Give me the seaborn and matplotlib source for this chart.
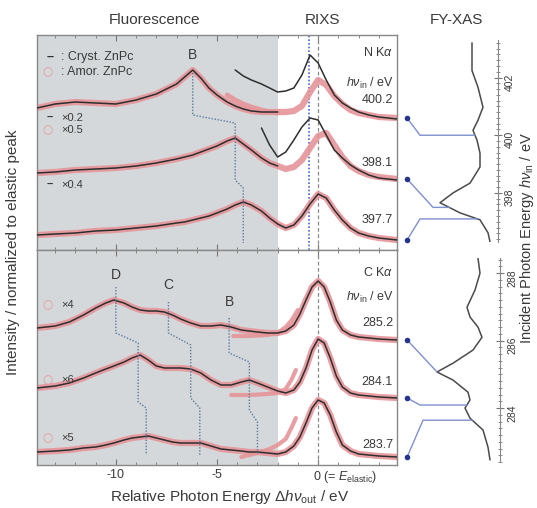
import numpy as np
import seaborn as sns
import matplotlib.pyplot as plt
from matplotlib.lines import Line2D
from matplotlib.ticker import MultipleLocator
from matplotlib.transforms import ScaledTranslation

# ---------- values ----------
# N K-alpha panel: relative photon energy grid (eV)
N_E = [-13.9, -13, -12, -11, -10, -9, -8, -7, -6.6, -6.2, -5.8, -5.4, -5, -4.5, -4.1, -3.7,
       -3.3, -2.8, -2.4, -2.0, -1.6, -1.2, -0.8, -0.4, 0, 0.4, 0.8, 1.2, 1.6, 2, 2.5, 3, 3.9]
N_LABELS = ["400.2", "398.1", "397.7"]
n1_red = [14.2, 14.6, 14.8, 14.7, 14.6, 15.0, 15.6, 16.6, 17.3, 18.0, 17.2, 16.2, 15.5, 14.8, 14.4, 14.1,
          13.9, 13.8, 13.8, 13.8, 13.8, 13.9, 14.4, 15.8, 17.0, 16.5, 15.4, 14.6, 14.0, 13.7, 13.5, 13.3, 13.2]
n1_red_scaled = [15.5, 15.0, 14.6, 14.3, 14.0, 13.8, 13.7]          # N_E[13:20]
n1_blk_scaled = [18.0, 17.4, 17.0, 16.6, 16.2, 15.8, 15.9, 16.2, 17.5, 19.5,
                 18.7, 17.0, 15.5, 14.7, 14.2, 13.8, 13.5, 13.3, 13.1]  # N_E[14:]
n2_red = [7.7, 7.8, 8.0, 8.1, 8.2, 8.4, 8.7, 9.1, 9.3, 9.5, 9.8, 10.1, 10.4, 10.9, 11.2, 10.6,
          10.0, 9.2, 8.7, 8.4, 8.1, 8.3, 9.0, 10.2, 11.4, 11.7, 10.5, 9.3, 8.4, 7.9, 7.5, 7.3, 7.1]
n2_blk_scaled = [12.2, 10.5, 9.3, 9.8, 11.0, 12.3, 13.2, 13.0, 11.5, 10.0,
                 9.2, 8.5, 8.0, 7.5, 7.2, 7.0]                      # N_E[17:]
n3_y = [1.5, 1.6, 1.7, 1.9, 2.0, 2.2, 2.4, 2.7, 2.8, 3.0, 3.2, 3.4, 3.7, 4.1, 4.5, 4.8,
        4.5, 3.9, 3.2, 2.6, 2.2, 2.5, 3.4, 4.6, 5.6, 5.2, 4.0, 3.0, 2.2, 1.7, 1.4, 1.2, 1.0]

# C K-alpha panel
C_E = [-13.9, -13, -12.3, -11.6, -11, -10.5, -10.1, -9.6, -9.2, -8.8, -8.4, -8.0, -7.6, -7.2,
       -6.8, -6.3, -5.8, -5.3, -4.8, -4.3, -3.8, -3.4, -3.0, -2.5, -2.0, -1.6, -1.2, -0.9,
       -0.6, -0.3, 0, 0.3, 0.6, 0.9, 1.2, 1.6, 2.0, 2.5, 3.0, 3.9]
C_LABELS = ["285.2", "284.1", "283.7"]
c1_y = [13.7, 13.9, 14.3, 15.0, 15.7, 16.2, 16.5, 16.2, 15.8, 15.5, 15.4, 15.4, 15.3, 15.0,
        14.6, 14.2, 13.9, 13.9, 14.0, 13.8, 13.5, 13.4, 13.3, 13.2, 13.2, 13.4, 14.0, 15.1,
        16.5, 17.8, 18.4, 17.8, 16.3, 14.5, 13.5, 13.0, 12.8, 12.7, 12.6, 12.5]
c2_y = [7.7, 7.9, 8.2, 8.7, 9.2, 9.6, 9.9, 10.3, 10.7, 11.0, 10.5, 9.9, 9.7, 9.7,
        9.7, 9.6, 9.2, 8.5, 8.0, 8.0, 8.3, 8.5, 8.2, 7.8, 7.4, 7.2, 7.5, 8.3,
        9.7, 11.5, 12.6, 12.2, 10.7, 8.9, 7.8, 7.2, 7.0, 6.9, 6.8, 6.7]
c3_y = [1.3, 1.4, 1.5, 1.7, 1.8, 2.0, 2.2, 2.5, 2.7, 2.8, 2.9, 2.7, 2.5, 2.3,
        2.2, 2.2, 2.2, 1.9, 1.6, 1.5, 1.4, 1.3, 1.3, 1.2, 1.1, 1.3, 1.9, 2.8,
        4.2, 5.7, 6.5, 6.2, 5.0, 3.3, 2.0, 1.4, 1.1, 1.0, 0.9, 0.8]
c1_sc_E = [-4.2, -3.4, -2.5, -2.0, -1.6, -1.3, -1.0]
c1_sc_y = [12.9, 12.9, 13.0, 13.2, 13.8, 14.5, 15.5]
c2_sc_E = [-4.3, -3.4, -2.5, -2.0, -1.6, -1.3, -1.1]
c2_sc_y = [7.0, 7.0, 7.1, 7.2, 7.6, 8.6, 9.5]
c3_sc_E = [-3.8, -3.0, -2.4, -2.0, -1.6, -1.3, -1.1]
c3_sc_y = [0.8, 1.2, 1.6, 2.0, 2.6, 3.8, 4.7]

# feature tracks (peak positions per spectrum, top/bottom of each dotted segment)
B_N_x, B_N_top, B_N_bot = [-6.2, -4.1, -3.7], [17.7, 12.7, 6.2], [13.5, 7.0, 0.7]
D_C_x, D_C_top, D_C_bot = [-10.0, -8.9, -8.5], [17.8, 12.2, 5.7], [13.2, 6.3, 1.0]
C_C_x, C_C_top, C_C_bot = [-7.4, -6.3, -5.85], [16.3, 12.0, 5.7], [13.2, 6.7, 1.0]
B_C_x, B_C_top, B_C_bot = [-4.4, -3.4, -3.0], [14.7, 10.3, 4.3], [11.2, 5.5, 1.0]

# FY-XAS spectra (incident energy, intensity)
xasN_E = [403.2, 402.24, 401.66, 400.97, 400.52, 400.17, 399.83, 399.38, 398.9, 398.34,
          398.0, 397.66, 397.31, 397.07, 396.62, 396.31]
xasN_I = [2.6, 2.6, 2.0, 1.5, 2.0, 2.5, 2.1, 1.8, 1.8, 2.8, 4.5, 5.8, 3.8, 1.8, 1.0, 0.8]
xasC_E = [288.44, 288.0, 287.5, 286.99, 286.7, 286.4, 286.1, 285.72, 285.33, 285.07,
          284.83, 284.47, 284.24, 284.0, 283.7, 283.35, 282.84, 282.46]
xasC_I = [2.2, 2.0, 2.5, 3.3, 3.0, 2.2, 1.8, 2.7, 4.7, 6.3, 4.7, 3.2, 3.0, 3.5, 3.0, 1.7, 1.2, 1.0]
connN_E, connN_elbow = [400.0, 397.5, 397.1], [7.8, 6.5, 7.8]
connC_E, connC_elbow = [285.07, 284.09, 283.64], [6.3, 8.0, 7.7]

# ---------- style ----------
sns.set_style("ticks")
plt.rcParams["font.family"] = ["Liberation Sans", "DejaVu Sans"]
plt.rcParams["mathtext.fontset"] = "custom"
plt.rcParams["mathtext.rm"] = "Liberation Sans"
plt.rcParams["mathtext.it"] = "Liberation Sans:italic"
TXT = "#3a3a3a"
GRAY = "#d5d8da"
PINK = "#e6959a"
BLK = "#2e2e2e"
TRACK = "#5b7aa3"
CONN = "#7f8fd0"
DOT = "#26358c"

W, H = 537, 508
fig = plt.figure(figsize=(W / 100, H / 100), dpi=100)


def box(x0, y0, x1, y1):
    return [x0 / W, 1 - y1 / H, (x1 - x0) / W, (y1 - y0) / H]


ax_n = fig.add_axes(box(37, 35, 397, 250))
ax_c = fig.add_axes(box(37, 250, 397, 465))
xas_n = fig.add_axes(box(405, 40, 498, 242))
xas_c = fig.add_axes(box(405, 258, 500, 462))


def line(ax, x, y, color, lw, alpha=1.0, z=3):
    sns.lineplot(x=list(x), y=list(y), ax=ax, color=color, lw=lw, alpha=alpha,
                 estimator=None, sort=False, legend=False, zorder=z)


def red(ax, x, y, lw=4.5):
    line(ax, x, y, PINK, lw, alpha=0.9, z=2)


def blk(ax, x, y):
    line(ax, x, y, BLK, 1.1, z=3)


def track(ax, xs, tops, bots):
    px, py = [], []
    for x, t, b in zip(xs, tops, bots):
        px += [x, x]
        py += [t, b]
    ax.plot(px, py, color=TRACK, ls=(0, (1, 1.2)), lw=1.0, zorder=4)


for ax in (ax_n, ax_c):
    ax.set_xlim(-13.9, 3.9)
    ax.set_ylim(0, 21.5)
    ax.axvspan(-13.9, -2.0, color=GRAY, lw=0, zorder=0)
    ax.axvline(0, color="#8a8a8a", ls=(0, (3, 2)), lw=0.9, zorder=1)
    ax.set_yticks([])
    ax.xaxis.set_major_locator(MultipleLocator(5))
    ax.xaxis.set_minor_locator(MultipleLocator(1))
    ax.tick_params(which="both", direction="in", top=True, bottom=True, color="#777")
    ax.tick_params(which="major", length=4)
    ax.tick_params(which="minor", length=2.5)
    for s in ax.spines.values():
        s.set_color("#888")
        s.set_linewidth(1.0)

ax_n.axvline(-0.45, color="#4466cc", ls=(0, (1, 1.2)), lw=1.2, zorder=1)
ax_n.tick_params(labelbottom=False)
ax_c.set_xticks([-10, -5, 0], ["-10", "-5", r"0 (= $E_{\rm elastic}$)"])
ax_c.tick_params(labelsize=9, labelcolor=TXT, pad=3)
zero_lbl = ax_c.get_xticklabels()[-1]
zero_lbl.set_ha("left")
zero_lbl.set_transform(zero_lbl.get_transform() + ScaledTranslation(-3.5 / 72, 0, fig.dpi_scale_trans))

# ---- N K-alpha spectra ----
red(ax_n, N_E, n3_y)
blk(ax_n, N_E, n3_y)
red(ax_n, N_E, n2_red)
blk(ax_n, N_E[:20], n2_red[:20])
blk(ax_n, N_E[17:], n2_blk_scaled)
red(ax_n, N_E, n1_red)
red(ax_n, N_E[13:20], n1_red_scaled, lw=3.5)
blk(ax_n, N_E[:20], n1_red[:20])
blk(ax_n, N_E[14:], n1_blk_scaled)
track(ax_n, B_N_x, B_N_top, B_N_bot)
ax_n.text(B_N_x[0], 19.5, "B", ha="center", va="center", fontsize=10, color=TXT)

# ---- C K-alpha spectra ----
for ys, sx, sy in ((c1_y, c1_sc_E, c1_sc_y), (c2_y, c2_sc_E, c2_sc_y), (c3_y, c3_sc_E, c3_sc_y)):
    red(ax_c, C_E, ys)
    red(ax_c, sx, sy, lw=3.0)
    blk(ax_c, C_E, ys)
track(ax_c, D_C_x, D_C_top, D_C_bot)
track(ax_c, C_C_x, C_C_top, C_C_bot)
track(ax_c, B_C_x, B_C_top, B_C_bot)
for lab, x, y in (("D", D_C_x[0], 19.0), ("C", C_C_x[0], 18.0), ("B", B_C_x[0], 16.3)):
    ax_c.text(x, y, lab, ha="center", va="center", fontsize=10, color=TXT)

# ---- in-panel annotations ----
kw = dict(fontsize=9, color=TXT, va="center")
circ = dict(fontsize=8.5, color=PINK, va="center", family="DejaVu Sans")
ax_n.text(-13.4, 19.3, "–", fontsize=9, color=BLK, va="center", fontweight="bold")
ax_n.text(-12.7, 19.3, ": Cryst. ZnPc", **kw)
ax_n.text(-13.65, 17.8, "○", **circ)
ax_n.text(-12.7, 17.8, ": Amor. ZnPc", **kw)
ax_n.text(-13.4, 13.2, "–", fontsize=8, color=BLK, va="center", fontweight="bold")
ax_n.text(-12.7, 13.2, "×0.2", fontsize=8, color=TXT, va="center")
ax_n.text(-13.65, 12.0, "○", **circ)
ax_n.text(-12.7, 12.0, "×0.5", fontsize=8, color=TXT, va="center")
ax_n.text(-13.4, 6.5, "–", fontsize=8, color=BLK, va="center", fontweight="bold")
ax_n.text(-12.7, 6.5, "×0.4", fontsize=8, color=TXT, va="center")
for lab, y in (("×4", 16.0), ("×6", 8.5), ("×5", 2.7)):
    ax_c.text(-13.65, y, "○", **circ)
    ax_c.text(-12.7, y, lab, fontsize=8, color=TXT, va="center")

rk = dict(ha="right", va="center", fontsize=9, color=TXT)
ax_n.text(3.7, 19.7, r"N K$\alpha$", **rk)
ax_n.text(3.75, 16.7, r"$h\nu_{\rm in}$ / eV", **rk)
for lab, y in zip(N_LABELS, [15.0, 8.7, 3.0]):
    ax_n.text(3.7, y, lab, **rk)
ax_c.text(3.7, 19.2, r"C K$\alpha$", **rk)
ax_c.text(3.75, 16.8, r"$h\nu_{\rm in}$ / eV", **rk)
for lab, y in zip(C_LABELS, [14.2, 8.3, 2.0]):
    ax_c.text(3.7, y, lab, **rk)

# ---- FY-XAS panels ----
for ax, E, I, lo, hi, xl in ((xas_n, xasN_E, xasN_I, 396.3, 403.3, 9.3),
                             (xas_c, xasC_E, xasC_I, 282.4, 288.45, 9.5)):
    line(ax, I, E, "#4a4a4a", 1.1)
    ax.set_xlim(xl, 0)
    ax.set_ylim(lo, hi)
    ax.set_xticks([])
    for s in ("left", "top", "bottom"):
        ax.spines[s].set_visible(False)
    ax.spines["right"].set_color("#888")
    ax.yaxis.tick_right()
    ax.yaxis.set_major_locator(MultipleLocator(2))
    ax.yaxis.set_minor_locator(MultipleLocator(0.2))
    ax.tick_params(axis="y", which="both", direction="inout", color="#777",
                   labelrotation=90, labelsize=7.5, labelcolor=TXT, pad=2)
    ax.tick_params(axis="y", which="major", length=6)
    ax.tick_params(axis="y", which="minor", length=3)
    ax.set_facecolor("none")

# connectors from RIXS spectra to the XAS curves
inv = fig.transFigure.inverted()


def connect(ax_main, ax_x, y_end, e_c, i_el, E, I):
    i_curve = np.interp(e_c, E[::-1], I[::-1])
    p0 = inv.transform(ax_main.transData.transform((4.4, y_end)))
    p1 = inv.transform(ax_x.transData.transform((i_el, e_c)))
    p2 = inv.transform(ax_x.transData.transform((i_curve, e_c)))
    fig.add_artist(Line2D([p0[0], p1[0], p2[0]], [p0[1], p1[1], p2[1]],
                          color=CONN, lw=1.0, transform=fig.transFigure))
    fig.add_artist(Line2D([p0[0]], [p0[1]], marker="o", ms=3, color=DOT,
                          transform=fig.transFigure))


for y_end, e_c, el in zip([n1_red[-1], n2_red[-1], n3_y[-1]], connN_E, connN_elbow):
    connect(ax_n, xas_n, y_end, e_c, el, xasN_E, xasN_I)
for y_end, e_c, el in zip([c1_y[-1], c2_y[-1], c3_y[-1]], connC_E, connC_elbow):
    connect(ax_c, xas_c, y_end, e_c, el, xasC_E, xasC_I)

# ---- titles and axis labels ----
fig.text(155 / W, 1 - 20 / H, "Fluorescence", ha="center", va="center", fontsize=11, color=TXT)
fig.text(322 / W, 1 - 20 / H, "RIXS", ha="center", va="center", fontsize=11, color=TXT)
fig.text(456 / W, 1 - 20 / H, "FY-XAS", ha="center", va="center", fontsize=11, color=TXT)
fig.text(13 / W, 1 - 252 / H, "Intensity / normalized to elastic peak", rotation=90,
         ha="center", va="center", fontsize=11, color=TXT)
fig.text(230 / W, 1 - 497 / H, r"Relative Photon Energy $\Delta h\nu_{\rm out}$ / eV",
         ha="center", va="center", fontsize=11, color=TXT)
fig.text(527 / W, 1 - 238 / H, r"Incident Photon Energy $h\nu_{\rm in}$ / eV", rotation=90,
         ha="center", va="center", fontsize=10.5, color=TXT)

plt.savefig("out.png", dpi=100)
